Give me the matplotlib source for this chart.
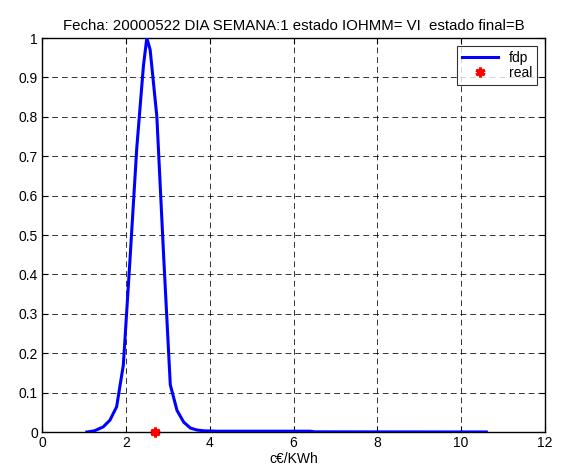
import matplotlib
matplotlib.use("Agg")
import matplotlib.pyplot as plt

plt.rcParams['font.family'] = ['Liberation Sans', 'DejaVu Sans']

x_fdp = [1.07, 1.25, 1.46, 1.62, 1.78, 1.94, 2.10, 2.26, 2.42, 2.50, 2.58, 2.74,
         2.90, 3.06, 3.22, 3.38, 3.54, 3.70, 3.86, 4.2, 5.0, 6.0, 6.4, 6.5, 8.0, 10.0, 10.6]
y_fdp = [0.0, 0.003, 0.013, 0.03, 0.064, 0.17, 0.44, 0.72, 0.93, 1.0, 0.97, 0.80,
         0.45, 0.12, 0.055, 0.025, 0.01, 0.005, 0.003, 0.002, 0.002, 0.002, 0.002,
         0.0005, 0.0003, 0.0002, 0.0001]
x_real = [2.70]
y_real = [0.0]

xticks = list(range(0, 13, 2))
yticks = [round(i * 0.1, 1) for i in range(11)]
ytick_labels = ['0', '0.1', '0.2', '0.3', '0.4', '0.5', '0.6', '0.7', '0.8', '0.9', '1']

fig = plt.figure(figsize=(5.61, 4.74), dpi=100)
ax = fig.add_axes([0.0749, 0.0886, 0.8966, 0.8312])

ax.plot(x_fdp, y_fdp, color='#0000ff', lw=2.2, label='fdp', zorder=3)
ax.plot(x_real, y_real, linestyle='none', marker=(6, 2, 0), color='red',
        markersize=7, markeredgewidth=2.2, label='real', zorder=4, clip_on=False)

ax.set_xlim(0, 12)
ax.set_ylim(0, 1)
ax.set_xticks(xticks)
ax.set_yticks(yticks)
ax.set_yticklabels(ytick_labels)
ax.grid(True, color='black', linestyle=(0, (6, 4)), linewidth=0.7, alpha=0.8)
ax.tick_params(direction='in', top=True, right=True, length=4, labelsize=10, pad=3)
for s in ax.spines.values():
    s.set_linewidth(1.0)
    s.set_color('black')

ax.set_xlabel('c€/KWh', fontsize=10, labelpad=1)
ax.set_title('Fecha: 20000522 DIA SEMANA:1 estado IOHMM= VI  estado final=B', fontsize=10.8, pad=6)

leg = ax.legend(loc='upper right', fontsize=10, frameon=True, fancybox=False,
                edgecolor='black', borderpad=0.35, handlelength=2.6, labelspacing=0.1,
                borderaxespad=0.55)
leg.get_frame().set_linewidth(0.8)

fig.savefig('out.png', dpi=100)
